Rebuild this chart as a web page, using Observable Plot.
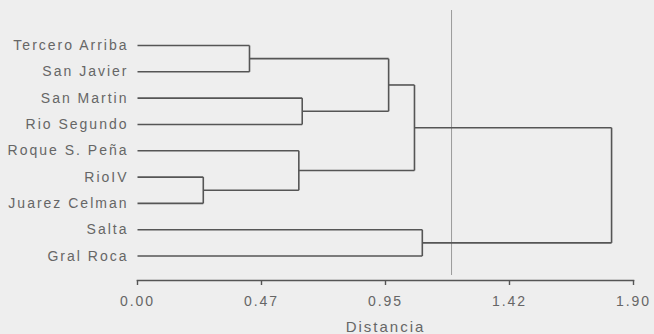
<!DOCTYPE html>
<html>
<head>
<meta charset="utf-8">
<script src="https://cdn.jsdelivr.net/npm/d3@7"></script>
<script src="https://cdn.jsdelivr.net/npm/@observablehq/plot@0.6"></script>
<style>
  html, body { margin: 0; padding: 0; background: #eeeeee; }
  .distlabel text[aria-label] {}
</style>
</head>
<body>
<div id="chart"></div>
<script>
// Leaves in display order (top to bottom)
const leaves = ["Tercero Arriba", "San Javier", "San Martin", "Rio Segundo", "Roque S. Peña", "RioIV", "Juarez Celman", "Salta", "Gral Roca"];
// Agglomeration steps
const mergeName   = ["C1", "C2", "C3", "C4", "C5", "C6", "C7", "C8"];
const mergeLeft   = ["RioIV", "Tercero Arriba", "Roque S. Peña", "San Martin", "C2", "C5", "Salta", "C6"];
const mergeRight  = ["Juarez Celman", "San Javier", "C1", "Rio Segundo", "C4", "C3", "Gral Roca", "C7"];
const mergeHeight = [0.252, 0.429, 0.618, 0.631, 0.962, 1.061, 1.091, 1.816];
// Cut line
const cutoff = [1.203];
// Axis ticks
const tickValues = [0, 0.475, 0.95, 1.425, 1.9];
const tickLabels = ["0.00", "0.47", "0.95", "1.42", "1.90"];
const axisTitle = "Distancia";

// Build dendrogram segments from the data
const pos = new Map(leaves.map((name, i) => [name, {x: 0, y: i}]));
const segs = [];
mergeName.forEach((name, k) => {
  const a = pos.get(mergeLeft[k]);
  const b = pos.get(mergeRight[k]);
  const h = mergeHeight[k];
  segs.push({x1: a.x, y1: a.y, x2: h, y2: a.y});
  segs.push({x1: b.x, y1: b.y, x2: h, y2: b.y});
  segs.push({x1: h, y1: a.y, x2: h, y2: b.y});
  pos.set(name, {x: h, y: (a.y + b.y) / 2});
});

const chart = Plot.plot({
  width: 654,
  height: 334,
  marginLeft: 137,
  marginRight: 21,
  marginTop: 10,
  marginBottom: 54,
  style: {
    background: "#eeeeee",
    fontFamily: "'Liberation Sans', Arial, sans-serif",
    fontSize: "14px",
    letterSpacing: "2px",
    color: "#666"
  },
  x: {domain: [0, 1.9]},
  y: {domain: [-1.33, 8.93], reverse: true},
  marks: [
    Plot.ruleX(cutoff, {stroke: "#9a9a9a", strokeWidth: 1, insetBottom: 5}),
    Plot.link(segs, {x1: "x1", y1: "y1", x2: "x2", y2: "y2", stroke: "#555", strokeWidth: 1.6}),
    Plot.frame({anchor: "bottom", stroke: "#555", strokeWidth: 1.6}),
    Plot.axisX({
      ticks: tickValues,
      tickFormat: (d, i) => tickLabels[i],
      tickSize: 5,
      tickPadding: 11,
      stroke: "#555",
      strokeWidth: 1.4,
      label: null
    }),
    Plot.axisX({
      ticks: [],
      label: axisTitle,
      labelAnchor: "center",
      labelArrow: "none",
      labelOffset: 51,
      fontSize: 15,
      tickSize: 0
    }),
    Plot.axisY({
      ticks: leaves.map((_, i) => i),
      tickFormat: i => leaves[i],
      tickSize: 0,
      tickPadding: 9,
      label: null
    })
  ]
});
document.getElementById("chart").appendChild(chart);
</script>
</body>
</html>
